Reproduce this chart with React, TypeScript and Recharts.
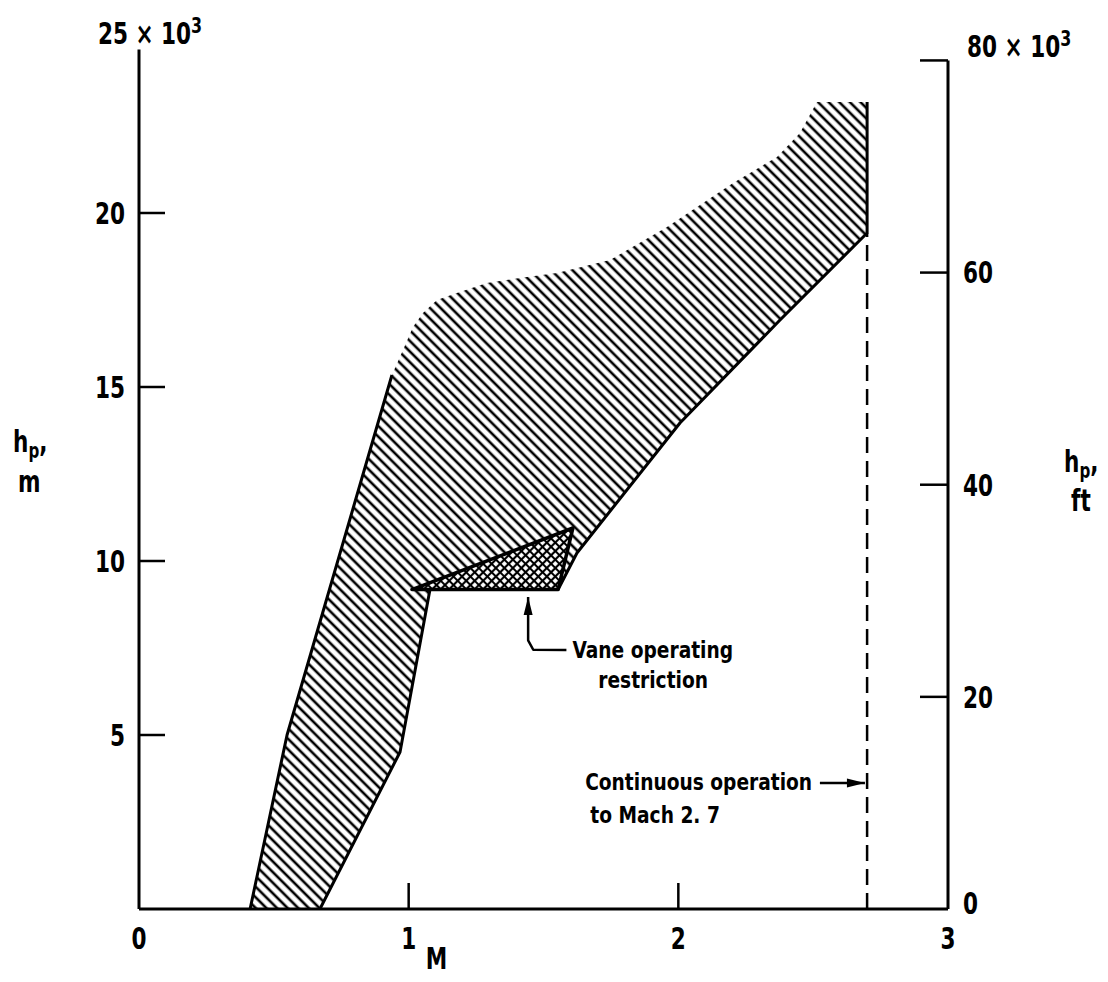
import React from 'react';
import { ComposedChart, Scatter, XAxis, YAxis, ReferenceLine } from 'recharts';

const FONT = "'DejaVu Sans Condensed', 'DejaVu Sans', sans-serif";
const FT_PER_M = 3.28084;

const machTicks = [0, 1, 2, 3];
const meterTicks = [5000, 10000, 15000, 20000, 25000];
const feetTicks = [0, 20000, 40000, 60000, 80000];
const leftAxisTop = 24700;

// operating envelope, walked round from the low-Mach corner on the ground
const envelopeMach = [0.412, 0.549, 0.938, 0.979, 1.016, 1.053, 1.105, 1.179, 1.29, 1.439, 1.55, 1.747, 1.958, 2.203, 2.366, 2.451, 2.514, 2.7, 2.7, 2.377, 2.006, 1.624, 1.554, 1.079, 0.968, 0.671];
const envelopeAlt = [0, 5000, 15345, 16064, 16724, 17127, 17500, 17700, 17990, 18160, 18276, 18650, 19600, 20862, 21610, 22300, 23190, 23190, 19425, 16925, 13966, 10230, 9180, 9180, 4512, 0];

// solid boundary lines
const leftEdgeMach = [0.412, 0.549, 0.938];
const leftEdgeAlt = [0, 5000, 15345];
const rightEdgeMach = [0.671, 0.968, 1.079, 1.554, 1.624, 2.006, 2.377, 2.7, 2.7];
const rightEdgeAlt = [0, 4512, 9180, 9180, 10230, 13966, 16925, 19425, 23190];

// vane operating restriction (cross-hatched)
const vaneMach = [1.012, 1.609, 1.554];
const vaneAlt = [9180, 10948, 9180];

// dashed continuous-operation limit
const limitMach = [2.7, 2.7];
const limitAlt = [0, 19425];

// leader arrows, tip first
const vaneArrowMach = [1.443, 1.443, 1.462, 1.585];
const vaneArrowAlt = [8966, 7720, 7450, 7443];
const contArrowMach = [2.692, 2.525];
const contArrowAlt = [3621, 3621];

// notes, right-aligned at the given point
const noteText = ['Vane operating', 'restriction', 'Continuous operation', 'to Mach 2. 7'];
const noteMach = [2.203, 2.11, 2.496, 2.154];
const noteAlt = [7443, 6580, 3650, 2701];

const zip = (ms: number[], hs: number[]) => ms.map((M, i) => ({ M, h: hs[i] }));

const pathOf = (pts: { x: number; y: number }[], close = false) =>
  pts.map((p, i) => `${i ? 'L' : 'M'}${p.x},${p.y}`).join(' ') + (close ? ' Z' : '');

// condensed bold lettering, squeezed horizontally like the original typeface
const Txt = ({ x, y, anchor = 'middle', size = 30, sx = 0.8, dy = '0.36em', children }: any) => (
  <g transform={`translate(${x},${y}) scale(${sx},1)`}>
    <text x={0} y={0} dy={dy} textAnchor={anchor} fontFamily={FONT} fontWeight="bold" fontSize={size} fill="#000">
      {children}
    </text>
  </g>
);

const noDot = () => <g />;

const polygon = (fill: string, stroke = 'none', width = 0) => (props: any) => (
  <path d={pathOf(props.points, true)} fill={fill} stroke={stroke} strokeWidth={width} strokeLinejoin="round" />
);

const polyline = (width: number, dash?: string) => (props: any) => (
  <path d={pathOf(props.points)} fill="none" stroke="#000" strokeWidth={width} strokeDasharray={dash} strokeLinejoin="round" />
);

const arrow = (props: any) => {
  const pts = props.points;
  const tip = pts[0];
  const next = pts[1];
  const dx = tip.x - next.x;
  const dy = tip.y - next.y;
  const len = Math.hypot(dx, dy) || 1;
  const ux = dx / len;
  const uy = dy / len;
  const L = 18;
  const W = 4.5;
  const bx = tip.x - ux * L;
  const by = tip.y - uy * L;
  const head = `M${tip.x},${tip.y} L${bx - uy * W},${by + ux * W} L${bx + uy * W},${by - ux * W} Z`;
  return (
    <g>
      <path d={pathOf(pts)} fill="none" stroke="#000" strokeWidth={2.5} strokeLinejoin="round" />
      <path d={head} fill="#000" />
    </g>
  );
};

const noteShape = (props: any) => (
  <Txt x={props.cx} y={props.cy} anchor="end" size={23} sx={0.9}>
    {props.payload.text}
  </Txt>
);

const XTick = (props: any) => {
  const { x, y, payload } = props;
  const v = payload.value;
  const axisY = y - 18;
  return (
    <g>
      {v > 0 && v < 3 && <line x1={x} x2={x} y1={axisY} y2={axisY - 26} stroke="#000" strokeWidth={2.5} />}
      <Txt x={x} y={y} dy="0.73em">{v}</Txt>
    </g>
  );
};

const LeftTick = (props: any) => {
  const { x, y, payload } = props;
  const v = payload.value;
  const axisX = x + 14;
  if (v === 25000) {
    return (
      <Txt x={axisX + 11} y={y - 6}>
        25 × 10<tspan fontSize={22} dy={-11}>3</tspan>
      </Txt>
    );
  }
  return (
    <g>
      <line x1={axisX} x2={axisX + 26} y1={y} y2={y} stroke="#000" strokeWidth={2.5} />
      <Txt x={x} y={y} anchor="end">{v / 1000}</Txt>
    </g>
  );
};

const RightTick = (props: any) => {
  const { x, y, payload } = props;
  const v = payload.value;
  const axisX = x - 15;
  if (v === 80000) {
    return (
      <g>
        <line x1={axisX} x2={axisX - 28} y1={y} y2={y} stroke="#000" strokeWidth={2.5} />
        <Txt x={x + 4} y={y - 14} anchor="start">
          80 × 10<tspan fontSize={22} dy={-11}>3</tspan>
        </Txt>
      </g>
    );
  }
  return (
    <g>
      {v > 0 && <line x1={axisX} x2={axisX - 28} y1={y} y2={y} stroke="#000" strokeWidth={2.5} />}
      <Txt x={x} y={v === 0 ? y - 6 : y} anchor="start">{v / 1000}</Txt>
    </g>
  );
};

const LeftTitle = (props: any) => {
  const vb = props.viewBox;
  const cy = vb.y + vb.height / 2;
  return (
    <g>
      <Txt x={vb.x + 5} y={cy - 22} anchor="start" dy={0}>
        h<tspan fontSize={21} dy={6}>p</tspan>
        <tspan dy={-6}>,</tspan>
      </Txt>
      <Txt x={vb.x + 10} y={cy + 18} anchor="start" dy={0}>m</Txt>
    </g>
  );
};

const RightTitle = (props: any) => {
  const vb = props.viewBox;
  const cy = vb.y + vb.height / 2;
  return (
    <g>
      <Txt x={vb.x + 116} y={cy - 2} anchor="start" dy={0}>
        h<tspan fontSize={21} dy={6}>p</tspan>
        <tspan dy={-6}>,</tspan>
      </Txt>
      <Txt x={vb.x + 123} y={cy + 37} anchor="start" dy={0}>ft</Txt>
    </g>
  );
};

const MachTitle = (props: any) => {
  const vb = props.viewBox;
  return <Txt x={vb.x + vb.width / 2 - 107} y={vb.y + 49}>M</Txt>;
};

export default function App() {
  const notes = noteText.map((text, i) => ({ M: noteMach[i], h: noteAlt[i], text }));
  return (
    <div style={{ width: 1100, height: 974, background: '#fff' }}>
      <ComposedChart width={1100} height={974} margin={{ top: 31, right: 10, bottom: 13, left: 0 }}>
        <defs>
          <pattern id="diag" patternUnits="userSpaceOnUse" width={7.5} height={7.5} patternTransform="rotate(45)">
            <line x1={0} y1={3.75} x2={7.5} y2={3.75} stroke="#000" strokeWidth={2.6} />
          </pattern>
          <pattern id="cross" patternUnits="userSpaceOnUse" width={6} height={6} patternTransform="rotate(45)">
            <rect width={6} height={6} fill="#fff" />
            <path d="M0,3 H6 M3,0 V6" stroke="#000" strokeWidth={2.2} />
          </pattern>
        </defs>
        <XAxis
          dataKey="M"
          type="number"
          domain={[0, 3]}
          ticks={machTicks}
          interval={0}
          allowDataOverflow
          height={60}
          tickLine={false}
          tickSize={0}
          tickMargin={18}
          axisLine={{ stroke: '#000', strokeWidth: 3 }}
          tick={XTick}
          label={{ content: MachTitle }}
        />
        <YAxis
          yAxisId="m"
          dataKey="h"
          type="number"
          domain={[0, 25000]}
          ticks={meterTicks}
          interval={0}
          allowDataOverflow
          width={131}
          tickLine={false}
          tickSize={0}
          tickMargin={14}
          axisLine={false}
          tick={LeftTick}
          label={{ content: LeftTitle }}
        />
        <YAxis
          yAxisId="ft"
          orientation="right"
          type="number"
          domain={[0, 25000 * FT_PER_M]}
          ticks={feetTicks}
          interval={0}
          allowDataOverflow
          width={150}
          tickLine={false}
          tickSize={0}
          tickMargin={15}
          axisLine={false}
          tick={RightTick}
          label={{ content: RightTitle }}
        />
        <ReferenceLine
          yAxisId="m"
          segment={[{ x: 0, y: 0 }, { x: 0, y: leftAxisTop }]}
          stroke="#000"
          strokeWidth={3}
          ifOverflow="visible"
        />
        <ReferenceLine
          yAxisId="ft"
          segment={[{ x: 3, y: 0 }, { x: 3, y: feetTicks[feetTicks.length - 1] }]}
          stroke="#000"
          strokeWidth={3}
          ifOverflow="visible"
        />
        <Scatter yAxisId="m" data={zip(envelopeMach, envelopeAlt)} line={polygon('url(#diag)')} shape={noDot} isAnimationActive={false} />
        <Scatter yAxisId="m" data={zip(vaneMach, vaneAlt)} line={polygon('url(#cross)', '#000', 3.5)} shape={noDot} isAnimationActive={false} />
        <Scatter yAxisId="m" data={zip(leftEdgeMach, leftEdgeAlt)} line={polyline(3)} shape={noDot} isAnimationActive={false} />
        <Scatter yAxisId="m" data={zip(rightEdgeMach, rightEdgeAlt)} line={polyline(3)} shape={noDot} isAnimationActive={false} />
        <Scatter yAxisId="m" data={zip(limitMach, limitAlt)} line={polyline(2.5, '16 8')} shape={noDot} isAnimationActive={false} />
        <Scatter yAxisId="m" data={zip(vaneArrowMach, vaneArrowAlt)} line={arrow} shape={noDot} isAnimationActive={false} />
        <Scatter yAxisId="m" data={zip(contArrowMach, contArrowAlt)} line={arrow} shape={noDot} isAnimationActive={false} />
        <Scatter yAxisId="m" data={notes} shape={noteShape} isAnimationActive={false} />
      </ComposedChart>
    </div>
  );
}
